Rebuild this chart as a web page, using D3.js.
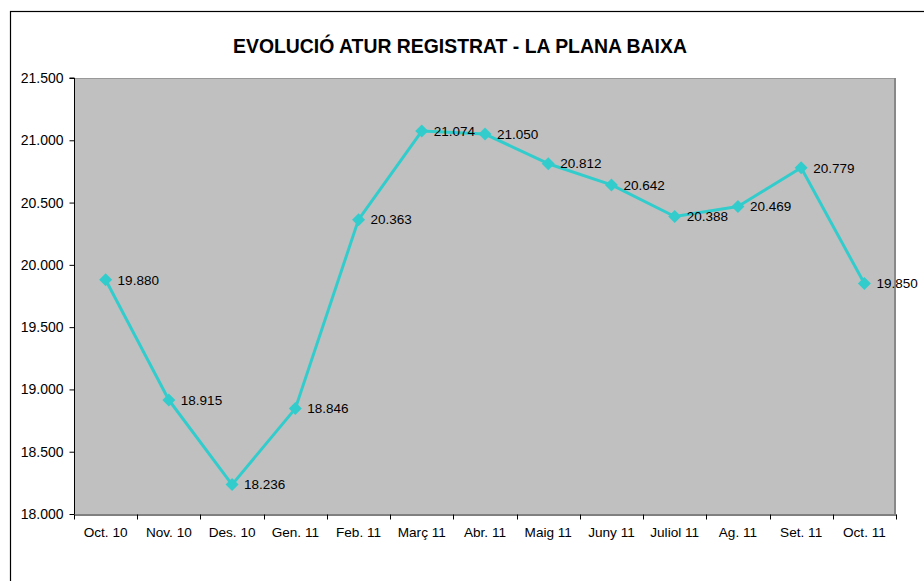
<!DOCTYPE html>
<html>
<head>
<meta charset="utf-8">
<script src="https://cdn.jsdelivr.net/npm/d3@7"></script>
<style>
  body { margin: 0; background: #fff; }
  svg { display: block; }
</style>
</head>
<body>
<script>
const width = 924;
const height = 581;

const title = "EVOLUCIÓ ATUR REGISTRAT - LA PLANA BAIXA";
const months = ["Oct. 10", "Nov. 10", "Des. 10", "Gen. 11", "Feb. 11", "Març 11", "Abr. 11",
                "Maig 11", "Juny 11", "Juliol 11", "Ag. 11", "Set. 11", "Oct. 11"];
const atur = [19880, 18915, 18236, 18846, 20363, 21074, 21050, 20812, 20642, 20388, 20469, 20779, 19850];
const yTicks = [18000, 18500, 19000, 19500, 20000, 20500, 21000, 21500];

const margin = {top: 78, right: 28, bottom: 67, left: 74};
const font = "'Liberation Sans', Arial, sans-serif";
const fmt = d3.formatLocale({decimal: ",", thousands: ".", grouping: [3], currency: ["", "€"]}).format(",");

const svg = d3.select("body").append("svg")
    .attr("width", width)
    .attr("height", height)
    .attr("font-family", font);

// outer chart frame (clipped by window on right / bottom)
svg.append("rect")
    .attr("x", 10.5).attr("y", 11.5)
    .attr("width", 930).attr("height", 600)
    .attr("fill", "none")
    .attr("stroke", "#000")
    .attr("stroke-width", 1.2);

const x = d3.scaleBand()
    .domain(months)
    .range([margin.left, width - margin.right]);

const y = d3.scaleLinear()
    .domain([18000, 21500])
    .range([height - margin.bottom, margin.top]);

// plot area
svg.append("rect")
    .attr("x", margin.left).attr("y", margin.top)
    .attr("width", x.range()[1] - margin.left)
    .attr("height", y(18000) - margin.top)
    .attr("fill", "#c0c0c0");
svg.append("line")
    .attr("x1", margin.left).attr("x2", x.range()[1])
    .attr("y1", margin.top + 0.5).attr("y2", margin.top + 0.5)
    .attr("stroke", "#999");
svg.append("line")
    .attr("x1", x.range()[1] - 1).attr("x2", x.range()[1] - 1)
    .attr("y1", margin.top).attr("y2", y(18000))
    .attr("stroke", "#888").attr("stroke-width", 2);

// y axis
const yAxis = svg.append("g")
    .attr("transform", `translate(${margin.left + 0.5},0)`)
    .call(d3.axisLeft(y).tickValues(yTicks).tickFormat(fmt).tickSize(5).tickPadding(6));
yAxis.selectAll("text").attr("font-size", 14).attr("fill", "#000").attr("font-family", font);
yAxis.selectAll("line, path").attr("stroke", "#000");
yAxis.select(".domain").attr("d", `M-5,${y(21500)}H0V${y(18000)}`);

// x axis with ticks at band boundaries
const xAxis = svg.append("g")
    .attr("transform", `translate(0,${y(18000) + 0.5})`)
    .call(d3.axisBottom(x).tickSize(0).tickPadding(13));
xAxis.selectAll("text").attr("font-size", 13.6).attr("fill", "#000").attr("font-family", font);
xAxis.select(".domain").attr("stroke", "#000");
xAxis.selectAll(".bound")
    .data(months.map(m => x(m)).concat([x.range()[1]]))
    .join("line")
    .attr("class", "bound")
    .attr("x1", d => Math.round(d) + 0.5).attr("x2", d => Math.round(d) + 0.5)
    .attr("y1", 0).attr("y2", 5)
    .attr("stroke", "#000");

// series
const cx = i => x(months[i]) + x.bandwidth() / 2;
const color = "#33cccc";

svg.append("path")
    .datum(atur)
    .attr("fill", "none")
    .attr("stroke", color)
    .attr("stroke-width", 3)
    .attr("stroke-linejoin", "round")
    .attr("d", d3.line().x((d, i) => cx(i)).y(d => y(d)));

svg.append("g")
  .selectAll("path")
  .data(atur)
  .join("path")
    .attr("transform", (d, i) => `translate(${cx(i)},${y(d)})`)
    .attr("d", "M0,-6.5L6.5,0L0,6.5L-6.5,0Z")
    .attr("fill", color);

svg.append("g")
  .selectAll("text")
  .data(atur)
  .join("text")
    .attr("x", (d, i) => cx(i) + 12)
    .attr("y", d => y(d))
    .attr("dy", "0.35em")
    .attr("font-size", 13.5)
    .attr("fill", "#000")
    .text(d => fmt(d));

svg.append("text")
    .attr("x", 460)
    .attr("y", 53)
    .attr("text-anchor", "middle")
    .attr("font-size", 19.4)
    .attr("font-weight", "bold")
    .text(title);
</script>
</body>
</html>
